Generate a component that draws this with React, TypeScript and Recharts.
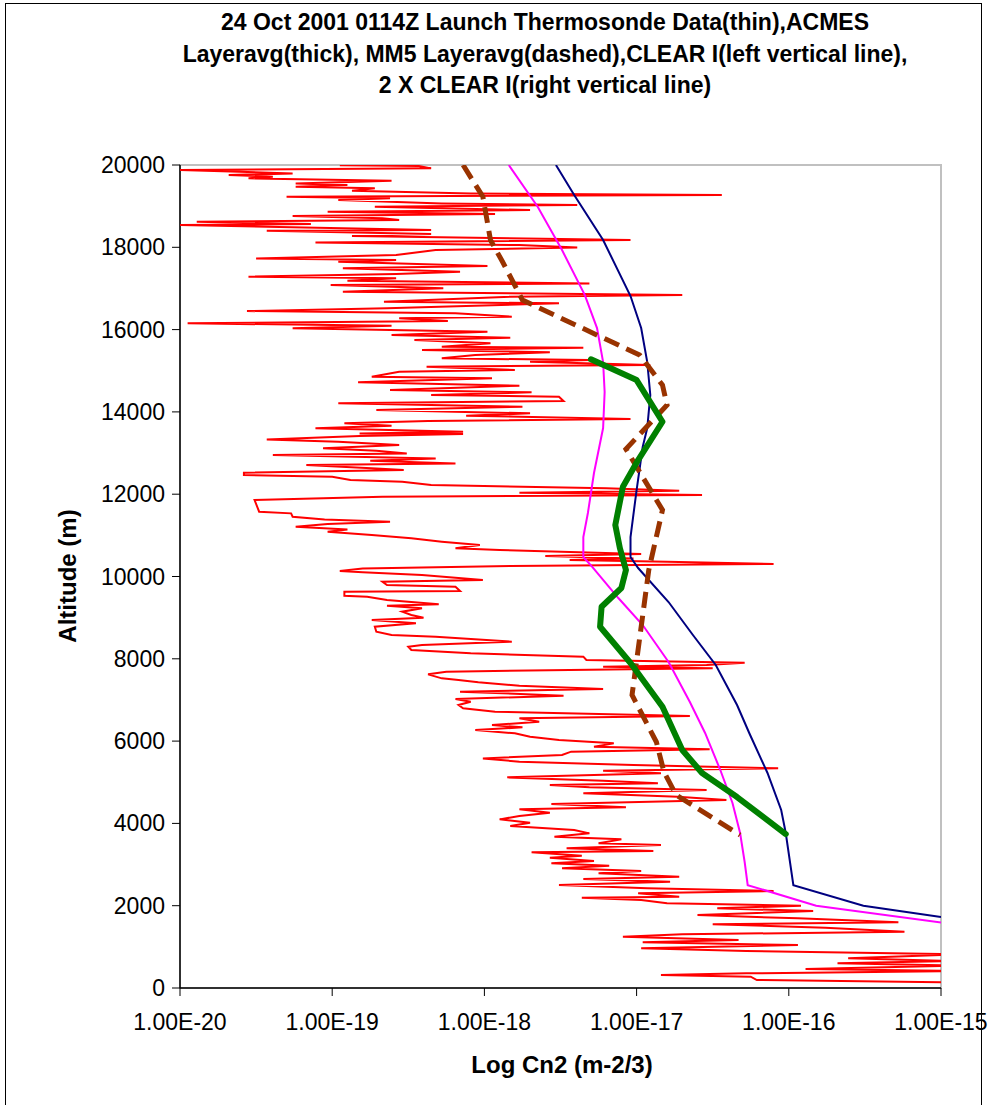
import React from "react";
import { ComposedChart, Scatter, XAxis, YAxis, ReferenceArea } from "recharts";

const altitudeTicks = [0, 2000, 4000, 6000, 8000, 10000, 12000, 14000, 16000, 18000, 20000];
const cn2Ticks = [1e-20, 1e-19, 1e-18, 1e-17, 1e-16, 1e-15];

// CLEAR I model (magenta) : altitude (m), log10 Cn2
const clearAlt = [20000, 18985, 17933, 16840, 16038, 15212, 14483, 13608, 12515, 11543, 10959, 10473, 10230, 9477, 8821, 7922, 6950, 6197, 5297, 4496, 3767, 3062, 2500, 2000, 1580];
const clearLog = [-17.84, -17.65, -17.49, -17.34, -17.26, -17.22, -17.21, -17.22, -17.28, -17.32, -17.35, -17.35, -17.29, -17.12, -16.96, -16.79, -16.65, -16.55, -16.45, -16.37, -16.32, -16.29, -16.27, -15.82, -14.98];

// 2 X CLEAR I (navy)
const clear2Alt = [20000, 19270, 18176, 16816, 16038, 15212, 14410, 13608, 13146, 12101, 10959, 10473, 10206, 9380, 8578, 7849, 6877, 6197, 5225, 4325, 3767, 2500, 2000, 1725];
const clear2Log = [-17.53, -17.41, -17.22, -17.04, -16.97, -16.93, -16.91, -16.93, -16.96, -17.0, -17.04, -17.04, -16.99, -16.79, -16.63, -16.48, -16.34, -16.26, -16.14, -16.05, -16.02, -15.97, -15.51, -15.0];

// ACMES layer average (thick green)
const acmesAlt = [15277, 14774, 13761, 12830, 12182, 11251, 10692, 10157, 9720, 9266, 8780, 7897, 6836, 5783, 5225, 4641, 3742];
const acmesLog = [-17.3, -17.0, -16.83, -16.99, -17.09, -17.14, -17.11, -17.07, -17.1, -17.23, -17.24, -17.04, -16.83, -16.7, -16.57, -16.34, -16.02];

// MM5 layer average (dashed)
const mm5Alt = [20000, 19229, 18176, 17642, 16718, 15382, 14653, 14167, 13098, 11615, 10157, 7120, 5978, 5249, 4690, 3718];
const mm5Log = [-18.14, -18.01, -17.96, -17.88, -17.75, -16.98, -16.83, -16.8, -17.07, -16.83, -16.92, -17.03, -16.87, -16.82, -16.74, -16.32];

// Thermosonde profile (thin red): [altitude m, log10 Cn2]
const thermosonde: [number, number][] = [
  [19995, -18.95], [19974, -18.43], [19918, -18.35], [19877, -20.0], [19796, -19.26], [19756, -19.68],
  [19715, -19.39], [19675, -19.55], [19618, -18.61], [19553, -19.24], [19513, -18.9], [19472, -19.24],
  [19432, -18.72], [19375, -18.87], [19310, -18.09], [19270, -16.44], [19229, -19.3], [19189, -18.62],
  [19148, -18.96], [19067, -18.28], [19027, -17.39], [18986, -18.72], [18905, -17.7], [18865, -19.03],
  [18808, -17.93], [18759, -19.26], [18703, -18.67], [18662, -18.56], [18622, -19.89], [18565, -19.14],
  [18540, -20.0], [18419, -18.35], [18403, -19.43], [18322, -18.35], [18273, -18.87], [18176, -17.04],
  [18119, -19.11], [18055, -17.77], [17998, -17.39], [17933, -18.32], [17812, -18.58], [17730, -19.5],
  [17690, -18.58], [17650, -18.96], [17544, -17.98], [17488, -18.93], [17407, -18.16], [17350, -18.58],
  [17285, -19.55], [17245, -18.58], [17188, -18.9], [17123, -17.31], [17083, -19.01], [17002, -18.27],
  [16920, -18.93], [16840, -16.7], [16799, -17.83], [16678, -18.66], [16638, -17.51], [16516, -18.64],
  [16451, -19.56], [16395, -18.19], [16314, -17.82], [16273, -18.56], [16208, -18.24], [16152, -19.95],
  [16095, -18.61], [16030, -19.26], [15949, -17.98], [15868, -18.61], [15803, -17.83], [15747, -18.46],
  [15666, -17.96], [15585, -18.28], [15560, -17.35], [15504, -18.41], [15447, -17.57], [15382, -18.06],
  [15301, -18.28], [15260, -17.31], [15220, -17.7], [15139, -16.91], [15099, -18.38], [15018, -17.8],
  [14977, -18.56], [14856, -18.74], [14815, -17.95], [14718, -18.83], [14637, -17.77], [14532, -18.62],
  [14475, -17.69], [14410, -18.35], [14370, -17.51], [14264, -17.48], [14208, -18.96], [14127, -17.75],
  [14046, -18.71], [13965, -17.7], [13908, -18.12], [13827, -17.04], [13778, -18.37], [13722, -18.92],
  [13665, -18.61], [13600, -19.11], [13519, -18.14], [13478, -18.82], [13462, -18.14], [13413, -18.82],
  [13332, -19.43], [13276, -18.96], [13195, -18.56], [13114, -19.06], [13057, -18.71], [12992, -18.51],
  [12952, -19.39], [12870, -18.32], [12814, -18.75], [12749, -18.19], [12709, -19.17], [12627, -18.71],
  [12587, -18.53], [12522, -19.58], [12466, -19.58], [12425, -19.0], [12344, -18.88], [12303, -18.54],
  [12222, -18.35], [12142, -17.2], [12085, -16.72], [12036, -17.77], [11980, -16.57], [11939, -18.67],
  [11858, -19.51], [11574, -19.48], [11534, -19.27], [11453, -19.26], [11388, -19.05], [11332, -18.62],
  [11275, -19.03], [11210, -19.24], [11145, -18.9], [11089, -19.03], [11007, -18.74], [10927, -18.48],
  [10846, -18.28], [10765, -18.03], [10684, -18.19], [10643, -17.9], [10546, -16.97], [10497, -17.6],
  [10440, -17.02], [10400, -17.44], [10359, -16.8], [10303, -16.1], [10254, -17.83], [10197, -18.8],
  [10133, -18.95], [10101, -18.8], [10036, -18.41], [9914, -18.01], [9874, -18.67], [9793, -18.64],
  [9752, -18.19], [9647, -18.16], [9631, -18.92], [9534, -18.92], [9510, -18.77], [9429, -18.64],
  [9323, -18.3], [9291, -18.64], [9226, -18.41], [9145, -18.54], [9064, -18.48], [9000, -18.4],
  [8942, -18.74], [8862, -18.45], [8780, -18.72], [8659, -18.71], [8578, -18.61], [8538, -18.32],
  [8416, -17.82], [8335, -18.41], [8295, -18.5], [8214, -18.48], [8133, -18.09], [8052, -17.35],
  [7971, -17.33], [7906, -16.29], [7849, -16.54], [7809, -17.22], [7768, -16.5], [7728, -17.44],
  [7687, -18.25], [7622, -18.37], [7525, -18.28], [7485, -18.17], [7428, -18.04], [7347, -17.77],
  [7266, -17.22], [7201, -18.16], [7104, -17.48], [7023, -18.19], [6958, -18.09], [6877, -18.17],
  [6796, -18.14], [6715, -17.93], [6609, -16.65], [6553, -17.77], [6472, -17.64], [6391, -17.95],
  [6334, -17.75], [6269, -18.06], [6188, -17.8], [6107, -17.7], [6026, -17.51], [5945, -17.15],
  [5864, -17.28], [5799, -16.52], [5743, -17.43], [5662, -17.49], [5580, -18.01], [5499, -17.77],
  [5419, -17.02], [5338, -16.07], [5281, -17.22], [5216, -16.84], [5119, -17.85], [5038, -17.22],
  [4973, -16.86], [4933, -17.57], [4876, -17.31], [4811, -16.54], [4730, -17.35], [4649, -16.73],
  [4568, -16.41], [4471, -17.56], [4390, -17.07], [4341, -17.77], [4260, -17.57], [4179, -17.77],
  [4098, -17.9], [4017, -17.7], [3936, -17.83], [3839, -17.41], [3758, -17.31], [3677, -17.54],
  [3612, -17.1], [3516, -17.25], [3475, -16.84], [3394, -17.46], [3329, -16.89], [3297, -17.69],
  [3216, -17.36], [3167, -17.57], [3086, -17.28], [3030, -17.56], [2973, -17.18], [2908, -17.49],
  [2843, -16.97], [2786, -17.25], [2706, -16.72], [2649, -17.35], [2584, -16.78], [2503, -17.51],
  [2422, -16.93], [2357, -16.1], [2301, -16.99], [2220, -16.72], [2195, -17.36], [2139, -16.97],
  [2058, -16.8], [2001, -15.92], [1936, -16.47], [1871, -15.84], [1774, -16.6], [1693, -15.94],
  [1596, -15.28], [1547, -16.5], [1466, -15.76], [1369, -15.24], [1304, -16.7], [1248, -17.09],
  [1167, -16.33], [1110, -16.96], [1045, -15.94], [964, -16.97], [899, -16.28], [818, -14.9],
  [721, -15.61], [656, -14.9], [599, -15.68], [543, -14.9], [462, -15.89], [413, -14.9],
  [356, -16.28], [316, -16.84], [275, -16.25], [194, -16.21], [138, -14.9],
];

const toRows = (alts: number[], logs: number[]) =>
  alts.map((alt, i) => ({ alt, cn2: Math.pow(10, logs[i]) }));

const thermoRows = thermosonde.map(([alt, lg]) => ({ alt, cn2: Math.pow(10, lg) }));
const clearRows = toRows(clearAlt, clearLog);
const clear2Rows = toRows(clear2Alt, clear2Log);
const acmesRows = toRows(acmesAlt, acmesLog);
const mm5Rows = toRows(mm5Alt, mm5Log);

const FONT = '"Liberation Sans", Arial, sans-serif';

const noDot = () => <g />;

const fmtCn2 = (v: number) => v.toExponential(2).toUpperCase();

const XTick = (props: any) => {
  const { x, y, payload } = props;
  return (
    <text x={x} y={y + 32} textAnchor="middle" fontFamily={FONT} fontSize={23} fill="#000">
      {fmtCn2(payload.value)}
    </text>
  );
};

const YTick = (props: any) => {
  const { x, y, payload } = props;
  return (
    <text x={x - 5} y={y + 8} textAnchor="end" fontFamily={FONT} fontSize={23} fill="#000">
      {payload.value}
    </text>
  );
};

export default function App() {
  return (
    <div style={{ position: "absolute", left: 0, top: 0, width: 992, height: 1105, background: "#fff", fontFamily: FONT }}>
      <div style={{ position: "absolute", left: 5, top: 3, width: 975, height: 1110, border: "1px solid #000" }} />
      <div
        style={{
          position: "absolute",
          left: 45,
          width: 1000,
          top: 7,
          textAlign: "center",
          fontWeight: "bold",
          fontSize: 23,
          lineHeight: "31.5px",
          color: "#000",
        }}
      >
        <div>24 Oct 2001 0114Z Launch Thermosonde Data(thin),ACMES</div>
        <div>Layeravg(thick), MM5 Layeravg(dashed),CLEAR I(left vertical line),</div>
        <div>2 X CLEAR I(right vertical line)</div>
      </div>
      <div
        style={{
          position: "absolute",
          left: 68,
          top: 576,
          transform: "translate(-50%, -50%) rotate(-90deg)",
          fontWeight: "bold",
          fontSize: 24,
          whiteSpace: "nowrap",
        }}
      >
        Altitude (m)
      </div>
      <div
        style={{
          position: "absolute",
          left: 562,
          top: 1065,
          transform: "translate(-50%, -50%)",
          fontWeight: "bold",
          fontSize: 24,
          whiteSpace: "nowrap",
        }}
      >
        Log Cn2 (m-2/3)
      </div>
      <div style={{ position: "absolute", left: 0, top: 0 }}>
        <ComposedChart width={992} height={1105} margin={{ top: 165, right: 51, bottom: 77, left: 100 }}>
          <XAxis
            type="number"
            dataKey="cn2"
            scale="log"
            domain={[1e-20, 1e-15]}
            ticks={cn2Ticks}
            interval={0}
            allowDataOverflow
            height={40}
            tickSize={8}
            tick={<XTick />}
            tickLine={{ stroke: "#000" }}
            axisLine={{ stroke: "#000", strokeWidth: 1.5 }}
          />
          <YAxis
            type="number"
            dataKey="alt"
            domain={[0, 20000]}
            ticks={altitudeTicks}
            interval={0}
            allowDataOverflow
            width={80}
            tickSize={8}
            tick={<YTick />}
            tickLine={{ stroke: "#000" }}
            axisLine={{ stroke: "#000", strokeWidth: 1.5 }}
          />
          <ReferenceArea
            x1={1e-20}
            x2={1e-15}
            y1={0}
            y2={20000}
            fill="none"
            fillOpacity={0}
            stroke="#c0c0c0"
            strokeWidth={2}
            ifOverflow="visible"
          />
          <Scatter data={thermoRows} shape={noDot} line={{ stroke: "#FF0000", strokeWidth: 2 }} isAnimationActive={false} />
          <Scatter data={clearRows} shape={noDot} line={{ stroke: "#FF00FF", strokeWidth: 2 }} isAnimationActive={false} />
          <Scatter data={clear2Rows} shape={noDot} line={{ stroke: "#000080", strokeWidth: 2 }} isAnimationActive={false} />
          <Scatter
            data={mm5Rows}
            shape={noDot}
            line={{ stroke: "#993300", strokeWidth: 5, strokeDasharray: "16 8" }}
            isAnimationActive={false}
          />
          <Scatter
            data={acmesRows}
            shape={noDot}
            line={{ stroke: "#008000", strokeWidth: 6, strokeLinejoin: "round", strokeLinecap: "round" }}
            isAnimationActive={false}
          />
        </ComposedChart>
      </div>
    </div>
  );
}
